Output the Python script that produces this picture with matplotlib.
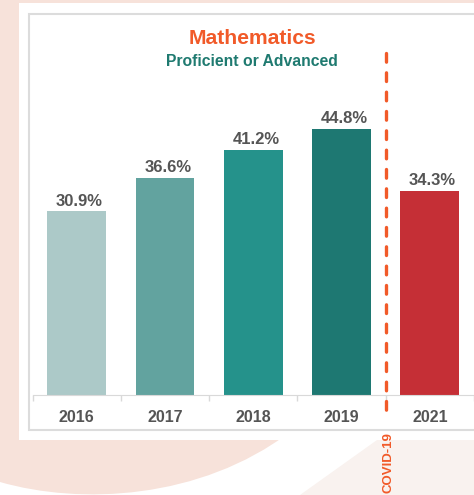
import matplotlib.pyplot as plt
from matplotlib.patches import Rectangle, Polygon, PathPatch
from matplotlib.path import Path

plt.rcParams['font.family'] = ['Liberation Sans', 'DejaVu Sans']

# data
years = ['2016', '2017', '2018', '2019', '2021']
values = [30.9, 36.6, 41.2, 44.8, 34.3]
bar_colors = ['#ACC9C8', '#62A39F', '#25928B', '#1E7872', '#C52F36']
value_labels = ['30.9%', '36.6%', '41.2%', '44.8%', '34.3%']
covid_pos = 3.5

W, H = 474, 495
PEACH = '#F7E2DA'
LIGHT_PEACH = '#F9F2EF'
ORANGE = '#F15A29'
TEAL = '#1F7A70'
GRAY_TXT = '#555555'

fig = plt.figure(figsize=(W / 100, H / 100), dpi=100)
fig.patch.set_facecolor(PEACH)

# background decoration, drawn in pixel coords
bg = fig.add_axes([0, 0, 1, 1], zorder=0)
bg.set_xlim(0, W)
bg.set_ylim(H, 0)
bg.axis('off')

# white area under the big peach curve
verts = [(0, 482), (80, 505), (200, 500), (290, 432),
         (W, 432), (W, H), (0, H), (0, 482)]
codes = [Path.MOVETO, Path.CURVE4, Path.CURVE4, Path.CURVE4,
         Path.LINETO, Path.LINETO, Path.LINETO, Path.CLOSEPOLY]
bg.add_patch(PathPatch(Path(verts, codes), facecolor='white', edgecolor='none'))
bg.add_patch(Polygon([(377, 440), (W, 440), (W, H), (300, H)],
                     closed=True, facecolor=LIGHT_PEACH, edgecolor='none'))

# white card + inner frame
bg.add_patch(Rectangle((19, 3), W - 19, 437, facecolor='white', edgecolor='none'))
bg.add_patch(Rectangle((29.5, 13.5), W, 416.5, facecolor='white',
                       edgecolor='#DCDCDC', linewidth=1.5))

bg.text(252, 44, 'Mathematics', ha='center', va='baseline',
        fontsize=15.2, fontweight='bold', color=ORANGE)
bg.text(252, 66.5, 'Proficient or Advanced', ha='center', va='baseline',
        fontsize=11.3, fontweight='bold', color=TEAL)
bg.text(389, 463, 'COVID-19', ha='center', va='center', rotation=90,
        fontsize=9.5, fontweight='bold', color=ORANGE)

# main chart: 88.5 px per category, 5.94 px per percent
left_px, base_px, top_px = 32.5, 395, 100
ax = fig.add_axes([left_px / W, 1 - base_px / H, (W - left_px) / W, (base_px - top_px) / H],
                  zorder=1)
ax.patch.set_alpha(0)
x = list(range(len(years)))
ax.bar(x, values, width=0.667, color=bar_colors, zorder=2)
ax.set_xlim(-0.5, -0.5 + (W - left_px) / 88.5)
ax.set_ylim(0, (base_px - top_px) / 5.94)

for xi, v, lab in zip(x, values, value_labels):
    ax.annotate(lab, (xi, v), xytext=(2, 2), textcoords='offset points',
                ha='center', va='bottom', fontsize=12, fontweight='bold', color=GRAY_TXT)

# covid divider (drawn top-down so the first dash sits at the top)
ax.plot([covid_pos, covid_pos], [57.5, -4.2], color=ORANGE, lw=2.4,
        linestyle=(0, (2.6, 3.2)), dash_capstyle='round', clip_on=False, zorder=3)

for s in ['left', 'right', 'top']:
    ax.spines[s].set_visible(False)
ax.spines['bottom'].set_color('#D9D9D9')
ax.set_yticks([])
ax.set_xticks(x)
ax.set_xticklabels(years, fontsize=11.5, fontweight='bold', color=GRAY_TXT)
ax.tick_params(axis='x', which='major', length=0, pad=10.5)
ax.set_xticks([i - 0.5 for i in range(len(years) + 1)], minor=True)
ax.tick_params(axis='x', which='minor', length=4.5, color='#D9D9D9', width=1)

fig.savefig('out.png', dpi=100, facecolor=fig.get_facecolor())
